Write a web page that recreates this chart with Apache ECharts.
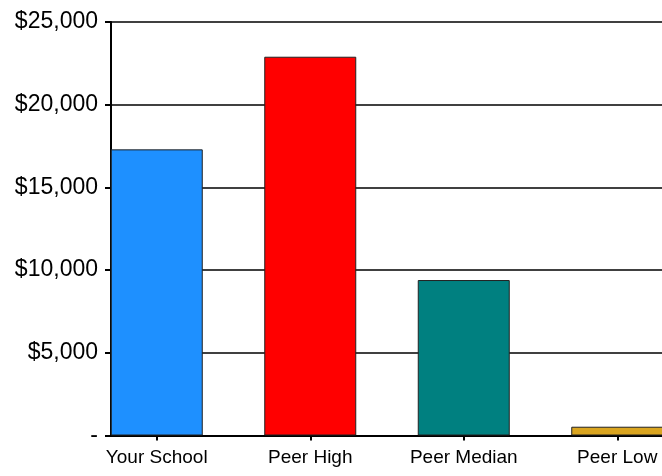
<!DOCTYPE html>
<html>
<head>
<meta charset="utf-8">
<script src="https://cdn.jsdelivr.net/npm/echarts@6/dist/echarts.min.js"></script>
<style>
html, body { margin: 0; padding: 0; background: #fff; }
#chart { width: 662px; height: 476px; }
</style>
</head>
<body>
<div id="chart"></div>
<script>
// data
const categories = ["Your School", "Peer High", "Peer Median", "Peer Low"];
const values = [17300, 22900, 9400, 530];
const barColors = ["#1E90FF", "#FF0000", "#008080", "#DAA520"];
const yTicks = { min: 0, max: 25000, interval: 5000 };

const myChart = echarts.init(document.getElementById("chart"));
const font = "Liberation Sans, Arial, sans-serif";

myChart.setOption({
  animation: false,
  grid: [
    // axis frame and gridlines, starting at the y axis
    { left: 111, top: 22, width: 583, height: 413.5, outerBoundsMode: "none" },
    // bars and category labels (last category runs past the right edge)
    { left: 80, top: 22, width: 614, height: 413.5, outerBoundsMode: "none" },
  ],
  xAxis: [
    {
      gridIndex: 0,
      type: "category",
      data: categories,
      axisLine: { show: true, lineStyle: { color: "#000", width: 2 } },
      axisTick: { show: false },
      axisLabel: { show: false },
    },
    {
      gridIndex: 1,
      type: "category",
      data: categories,
      axisLine: { show: false },
      axisTick: { show: true, alignWithLabel: true, length: 5, lineStyle: { color: "#000", width: 2 } },
      axisLabel: { color: "#000", fontSize: 19, fontFamily: font, margin: 13 },
    },
  ],
  yAxis: [
    {
      gridIndex: 0,
      type: "value",
      min: yTicks.min,
      max: yTicks.max,
      interval: yTicks.interval,
      axisLine: { show: true, lineStyle: { color: "#000", width: 2 } },
      axisTick: { show: true, length: 6, lineStyle: { color: "#000", width: 2 } },
      axisLabel: {
        color: "#000",
        fontSize: 23,
        fontFamily: font,
        margin: 13,
        formatter: (v) => (v === 0 ? "-" : "$" + v.toLocaleString("en-US")),
      },
      splitLine: { show: true, lineStyle: { color: "#000", width: 1.5 } },
    },
    {
      gridIndex: 1,
      type: "value",
      min: yTicks.min,
      max: yTicks.max,
      interval: yTicks.interval,
      show: false,
      splitLine: { show: false },
    },
  ],
  series: [
    {
      type: "bar",
      xAxisIndex: 1,
      yAxisIndex: 1,
      barWidth: 92,
      data: values.map((v, i) => ({
        value: v,
        itemStyle: { color: barColors[i] },
      })),
      itemStyle: { borderColor: "#222", borderWidth: 1 },
    },
  ],
});
</script>
</body>
</html>
